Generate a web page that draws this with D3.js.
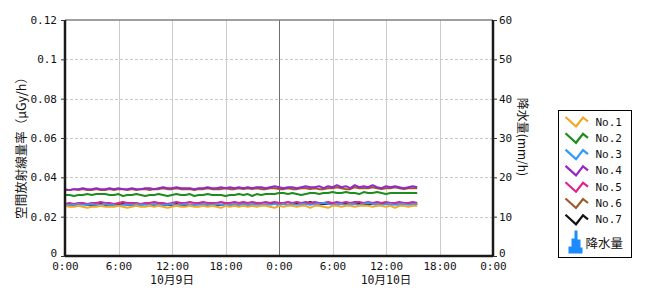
<!DOCTYPE html>
<html>
<head>
<meta charset="utf-8">
<script src="https://cdn.jsdelivr.net/npm/d3@7.9.0/dist/d3.min.js"></script>
<style>
  body { margin: 0; background: #fff; }
  text { font-family: "DejaVu Sans Mono", "Noto Sans CJK JP", monospace; fill: #111; }
</style>
</head>
<body>
<svg id="chart" width="670" height="300"></svg>
<script>
// ---------------------------------------------------------------
// Data (µGy/h, every 30 minutes from 10/9 0:00)
// ---------------------------------------------------------------
const seriesNames = ['No.1', 'No.2', 'No.3', 'No.4', 'No.5', 'No.6', 'No.7'];
const seriesColors = ['#f5a623', '#1e8c1e', '#3399ff', '#9626c8', '#e0208e', '#9b5a2a', '#111111'];

const no1 = [0.0255,0.025,0.025,0.0255,0.025,0.0245,0.025,0.025,0.0255,0.025,
  0.025,0.025,0.0255,0.025,0.0245,0.025,0.0255,0.025,0.025,0.0255,
  0.025,0.0255,0.025,0.0245,0.025,0.0255,0.025,0.025,0.0255,0.025,
  0.025,0.0255,0.025,0.0255,0.025,0.0245,0.0255,0.025,0.0255,0.025,
  0.0255,0.025,0.0255,0.025,0.0255,0.0255,0.025,0.0245,0.0255,0.025,
  0.0255,0.0255,0.025,0.0255,0.0255,0.0245,0.0255,0.0255,0.025,0.0245,
  0.0255,0.0255,0.025,0.0255,0.0255,0.025,0.0255,0.0255,0.0255,0.025,
  0.0255,0.0255,0.025,0.0255,0.0245,0.0255,0.0255,0.025,0.0255,0.0255];
const no2 = [0.031,0.031,0.0305,0.031,0.031,0.0315,0.031,0.0315,0.0315,0.0315,
  0.031,0.031,0.0315,0.0305,0.031,0.031,0.0315,0.031,0.0305,0.031,
  0.031,0.0315,0.031,0.0305,0.031,0.0315,0.031,0.031,0.0315,0.0305,
  0.031,0.031,0.0315,0.031,0.031,0.031,0.0305,0.031,0.031,0.0315,
  0.031,0.0315,0.0305,0.0315,0.031,0.0315,0.0315,0.0315,0.032,0.032,
  0.0315,0.032,0.0315,0.031,0.0315,0.032,0.032,0.0315,0.032,0.032,
  0.0325,0.032,0.032,0.0325,0.032,0.032,0.0315,0.0325,0.032,0.032,
  0.0325,0.032,0.0315,0.032,0.032,0.032,0.032,0.032,0.032,0.032];
const no3 = [0.026,0.026,0.026,0.0265,0.026,0.026,0.0265,0.026,0.026,0.0265,
  0.026,0.026,0.0255,0.026,0.026,0.026,0.0265,0.026,0.026,0.026,
  0.0265,0.026,0.026,0.026,0.0265,0.026,0.026,0.0265,0.026,0.026,
  0.026,0.0265,0.026,0.026,0.0265,0.026,0.026,0.026,0.0265,0.026,
  0.0265,0.026,0.0265,0.026,0.026,0.0265,0.026,0.0265,0.026,0.0265,
  0.026,0.0265,0.026,0.0265,0.0265,0.026,0.0265,0.0265,0.027,0.0265,
  0.026,0.0265,0.0265,0.026,0.0265,0.0265,0.026,0.0265,0.027,0.0265,
  0.0265,0.026,0.0265,0.0265,0.026,0.0265,0.0265,0.026,0.0265,0.0265];
const no4 = [0.034,0.0335,0.034,0.034,0.0345,0.034,0.034,0.0345,0.034,0.034,
  0.0345,0.034,0.0345,0.034,0.034,0.0345,0.034,0.034,0.0345,0.0345,
  0.034,0.0345,0.035,0.0345,0.0345,0.035,0.0345,0.0345,0.0345,0.034,
  0.0345,0.0345,0.035,0.0345,0.0345,0.035,0.0345,0.035,0.0345,0.035,
  0.0345,0.035,0.0345,0.035,0.035,0.0345,0.035,0.0355,0.035,0.0345,
  0.035,0.035,0.0345,0.035,0.0355,0.035,0.035,0.0355,0.0345,0.0355,
  0.035,0.036,0.035,0.0355,0.0345,0.036,0.035,0.0355,0.035,0.036,
  0.035,0.0345,0.0355,0.035,0.0355,0.035,0.0345,0.035,0.0355,0.035];
const no5 = [0.0265,0.027,0.0265,0.027,0.027,0.0265,0.027,0.027,0.0275,0.027,
  0.027,0.0265,0.027,0.0275,0.027,0.027,0.027,0.0265,0.027,0.027,
  0.0275,0.027,0.027,0.0265,0.027,0.0275,0.027,0.027,0.0275,0.027,
  0.027,0.0275,0.027,0.027,0.027,0.0275,0.027,0.027,0.0275,0.027,
  0.0275,0.027,0.0275,0.027,0.027,0.0275,0.027,0.0275,0.027,0.027,
  0.0275,0.027,0.0275,0.027,0.0275,0.027,0.0275,0.027,0.027,0.0275,
  0.027,0.0275,0.027,0.0275,0.027,0.0275,0.0275,0.027,0.0275,0.027,
  0.0275,0.027,0.0275,0.027,0.027,0.0275,0.027,0.027,0.0275,0.027];
const no6 = [0.0335,0.0335,0.034,0.0335,0.034,0.0335,0.0335,0.034,0.0335,0.0335,
  0.034,0.0335,0.034,0.034,0.0335,0.034,0.0335,0.034,0.034,0.0335,
  0.034,0.034,0.0345,0.034,0.034,0.0345,0.034,0.034,0.034,0.0335,
  0.034,0.034,0.0345,0.034,0.034,0.034,0.0345,0.034,0.034,0.0345,
  0.034,0.0345,0.034,0.0345,0.034,0.034,0.0345,0.0345,0.034,0.034,
  0.0345,0.034,0.034,0.0345,0.0345,0.034,0.0345,0.034,0.034,0.0345,
  0.0345,0.035,0.0345,0.034,0.034,0.035,0.0345,0.0345,0.0345,0.035,
  0.0345,0.034,0.0345,0.0345,0.035,0.0345,0.034,0.0345,0.0345,0.0345];
const no7 = [0.026,0.026,0.026,0.026,0.0265,0.026,0.026,0.026,0.0265,0.026,
  0.026,0.026,0.026,0.0265,0.026,0.026,0.026,0.026,0.0265,0.026,
  0.026,0.0265,0.026,0.026,0.026,0.0265,0.026,0.026,0.026,0.026,
  0.0265,0.026,0.026,0.0265,0.026,0.026,0.0265,0.026,0.026,0.026,
  0.0265,0.026,0.026,0.0265,0.026,0.026,0.0265,0.0265,0.026,0.0265,
  0.026,0.0265,0.0265,0.026,0.0265,0.0275,0.0265,0.026,0.0265,0.0265,
  0.0265,0.026,0.0265,0.0265,0.026,0.0265,0.0265,0.026,0.0265,0.0265,
  0.026,0.0265,0.0265,0.026,0.0265,0.026,0.0265,0.0265,0.026,0.0265];
const seriesValues = [no1, no2, no3, no4, no5, no6, no7];

// precipitation (mm/h, hourly) - no rain in the period
const rain = [0,0,0,0,0,0,0,0,0,0,0,0,0,0,0,0,0,0,0,0,
  0,0,0,0,0,0,0,0,0,0,0,0,0,0,0,0,0,0,0,0];

const leftTicks = [0, 0.02, 0.04, 0.06, 0.08, 0.1, 0.12];
const rightTicks = [0, 10, 20, 30, 40, 50, 60];
const dateLabels = [
  { t: new Date(2024, 9, 9, 12), label: '10月9日' },
  { t: new Date(2024, 9, 10, 12), label: '10月10日' },
];

// ---------------------------------------------------------------
// Layout
// ---------------------------------------------------------------
const W = 670, H = 300;
const m = { top: 20, right: 177, bottom: 44, left: 65 };
const iw = W - m.left - m.right;
const ih = H - m.top - m.bottom;

const start = new Date(2024, 9, 9, 0, 0);
const end = new Date(2024, 9, 11, 0, 0);
const times = no1.map((_, i) => d3.timeMinute.offset(start, i * 30));
const rainTimes = rain.map((_, i) => d3.timeHour.offset(start, i));

const x = d3.scaleTime().domain([start, end]).range([0, iw]);
const y = d3.scaleLinear().domain([0, 0.12]).range([ih, 0]);
const y2 = d3.scaleLinear().domain([0, 60]).range([ih, 0]);

const svg = d3.select('#chart');
const g = svg.append('g').attr('transform', `translate(${m.left},${m.top})`);

// grid
const hourTicks = d3.timeHour.every(6).range(start, d3.timeHour.offset(end, 1));
g.append('g')
  .selectAll('line')
  .data(hourTicks.filter((d) => +d !== +start && +d !== +end))
  .join('line')
  .attr('x1', (d) => Math.round(x(d)) + 0.5)
  .attr('x2', (d) => Math.round(x(d)) + 0.5)
  .attr('y1', 0)
  .attr('y2', ih)
  .attr('stroke', (d) => (d.getHours() === 0 ? '#6e6e6e' : '#cccccc'))
  .attr('stroke-width', 1);

g.append('g')
  .selectAll('line')
  .data(leftTicks.filter((d) => d > 0 && d < 0.12))
  .join('line')
  .attr('x1', 0)
  .attr('x2', iw)
  .attr('y1', (d) => Math.round(y(d)) + 0.5)
  .attr('y2', (d) => Math.round(y(d)) + 0.5)
  .attr('stroke', '#c8c8c8')
  .attr('stroke-dasharray', '3,2');

// rain bars (right axis)
g.append('g')
  .selectAll('rect')
  .data(rain)
  .join('rect')
  .attr('x', (d, i) => x(rainTimes[i]))
  .attr('width', x(d3.timeHour.offset(start, 1)) - x(start) - 1)
  .attr('y', (d) => y2(d))
  .attr('height', (d) => ih - y2(d))
  .attr('fill', '#1a8cff');

// series lines (No.7 drawn first so No.1 ends on top)
const line = d3.line()
  .x((d, i) => x(times[i]))
  .y((d) => y(d));

g.append('g')
  .selectAll('path')
  .data(d3.range(seriesValues.length).reverse())
  .join('path')
  .attr('d', (k) => line(seriesValues[k]))
  .attr('fill', 'none')
  .attr('stroke', (k) => seriesColors[k])
  .attr('stroke-width', 2)
  .attr('stroke-linejoin', 'round');

// frame
g.append('line')
  .attr('x1', 0).attr('x2', iw).attr('y1', 0).attr('y2', 0)
  .attr('stroke', '#808080').attr('stroke-width', 1.5);

// axes
const leftAxis = g.append('g')
  .call(d3.axisLeft(y).tickValues(leftTicks).tickSize(4).tickPadding(4)
    .tickFormat((d) => (d === 0 ? '0' : d3.format('~g')(d))));
const rightAxis = g.append('g')
  .attr('transform', `translate(${iw},0)`)
  .call(d3.axisRight(y2).tickValues(rightTicks).tickSize(4).tickPadding(2));
const bottomAxis = g.append('g')
  .attr('transform', `translate(0,${ih})`)
  .call(d3.axisBottom(x).tickValues(hourTicks).tickSize(0).tickPadding(6)
    .tickFormat(d3.timeFormat('%-H:%M')));

[leftAxis, rightAxis, bottomAxis].forEach((a) => {
  a.select('.domain').attr('stroke', '#1a1a1a').attr('stroke-width', 2.5);
  a.selectAll('.tick line').attr('stroke', '#333');
  a.selectAll('text').attr('font-size', 11).attr('fill', '#111')
    .style('font-family', '"DejaVu Sans Mono", monospace');
});
leftAxis.select('.domain').attr('d', `M0,0V${ih}`);
rightAxis.select('.domain').attr('d', `M0,0V${ih}`);
bottomAxis.select('.domain').attr('d', `M0,0H${iw}`);
// the zero labels sit a little above the x labels
leftAxis.selectAll('.tick text').filter((d) => d === 0).attr('dy', '0.05em');
rightAxis.selectAll('.tick text').filter((d) => d === 0).attr('dy', '0.05em');

// date labels
g.append('g')
  .selectAll('text')
  .data(dateLabels)
  .join('text')
  .attr('x', (d) => x(d.t))
  .attr('y', ih + 28)
  .attr('text-anchor', 'middle')
  .attr('font-size', 11.5)
  .text((d) => d.label);

// axis titles
svg.append('text')
  .attr('transform', 'translate(26,145) rotate(-90)')
  .attr('text-anchor', 'middle')
  .attr('font-size', 12.5)
  .style('font-family', '"Noto Sans CJK JP", sans-serif')
  .text('空間放射線量率（μGy/h）');

svg.append('text')
  .attr('transform', 'translate(518,137) rotate(90)')
  .attr('text-anchor', 'middle')
  .attr('font-size', 12)
  .style('font-family', '"Noto Sans CJK JP", sans-serif')
  .text('降水量(mm/h)');

// ---------------------------------------------------------------
// Legend
// ---------------------------------------------------------------
const legend = svg.append('g').attr('transform', 'translate(558.5,110.5)');
legend.append('rect')
  .attr('width', 73).attr('height', 147)
  .attr('fill', '#fff').attr('stroke', '#000').attr('stroke-width', 1);

const item = legend.selectAll('g.item')
  .data(seriesNames)
  .join('g')
  .attr('class', 'item')
  .attr('transform', (d, i) => `translate(0,${10.5 + i * 16.3})`);

item.append('path')
  .attr('d', 'M7,-4L17.5,5.5L24.5,-3.5L29.5,0.5')
  .attr('fill', 'none')
  .attr('stroke', (d, i) => seriesColors[i])
  .attr('stroke-width', 2.2);

item.append('text')
  .attr('x', 37)
  .attr('y', 4.5)
  .attr('font-size', 11)
  .text((d) => d);

legend.append('path')
  .attr('d', 'M10,143V136H13V128H16V120H19V129H22V137H24V143Z')
  .attr('fill', '#1a8cff');
legend.append('text')
  .attr('x', 27)
  .attr('y', 137)
  .attr('font-size', 12.5)
  .style('font-family', '"Noto Sans CJK JP", sans-serif')
  .text('降水量');
</script>
</body>
</html>
